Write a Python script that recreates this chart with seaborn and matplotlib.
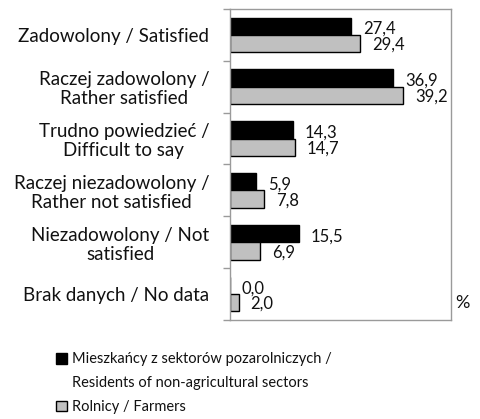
import matplotlib
matplotlib.use("Agg")
import matplotlib.pyplot as plt
import seaborn as sns
import pandas as pd
import numpy as np
from matplotlib.patches import Patch

categories = ["Zadowolony / Satisfied",
              "Raczej zadowolony /\nRather satisfied",
              "Trudno powiedzieć /\nDifficult to say",
              "Raczej niezadowolony /\nRather not satisfied",
              "Niezadowolony / Not\nsatisfied",
              "Brak danych / No data"]
series_names = ["Mieszkańcy z sektorów pozarolniczych /",
                "Rolnicy / Farmers"]
legend_second_line = "Residents of non-agricultural sectors"
non_agri = [27.4, 36.9, 14.3, 5.9, 15.5, 0.0]
farmers = [29.4, 39.2, 14.7, 7.8, 6.9, 2.0]

sns.set_theme(style="white")
plt.rcParams['font.family'] = ['Lato', 'DejaVu Sans']

df = pd.DataFrame({
    "cat": categories * 2,
    "series": [series_names[0]] * 6 + [series_names[1]] * 6,
    "val": non_agri + farmers,
})

fig = plt.figure(figsize=(4.8, 4.19), dpi=100)
ax = fig.add_axes([230/480, 1-320/419, 221/480, 311/419])
sns.barplot(data=df, y="cat", x="val", hue="series", orient="h",
            palette=["#000000", "#c0c0c0"], edgecolor="black", linewidth=1,
            width=0.67, ax=ax, legend=False, order=categories,
            hue_order=series_names)
ax.set_xlim(0, 50)
ax.set_ylim(5.5, -0.5)
ax.set_xlabel("")
ax.set_ylabel("")
ax.set_xticks([])
ax.set_yticks(range(6))
ax.set_yticklabels(categories, fontsize=13.5, ha="right", multialignment="center",
                   linespacing=1.15, color="#111111")
ax.tick_params(axis="y", which="major", length=0, pad=15)
ax.set_yticks(np.arange(-0.5, 6.0, 1), minor=True)
ax.tick_params(axis="y", which="minor", length=5, width=1, color="#9a9a9a",
               direction="out", left=True)
for s in ["left", "bottom", "right", "top"]:
    ax.spines[s].set_visible(True)
    ax.spines[s].set_color("#9a9a9a")
    ax.spines[s].set_linewidth(1)

for cont, vals, dy in zip(ax.containers, [non_agri, farmers], [5.6, 4.5]):
    for bar, v in zip(cont, vals):
        ax.annotate(f"{v:.1f}".replace(".", ","),
                    (bar.get_x() + bar.get_width(), bar.get_y() + bar.get_height() / 2),
                    xytext=(8.5, -dy), textcoords="offset points",
                    ha="left", va="baseline", fontsize=12, color="#111111")

fig.text(462/480, 1-303/419, "%", ha="center", va="center", fontsize=13, color="#111111")

handles = [Patch(facecolor="#000000", edgecolor="black"),
           Patch(facecolor="none", edgecolor="none"),
           Patch(facecolor="#c0c0c0", edgecolor="black")]
labels = [series_names[0], legend_second_line, series_names[1]]
fig.legend(handles, labels, loc="upper left", bbox_to_anchor=(49/480, 1-345/419),
           frameon=False, fontsize=10.5, handlelength=0.75, handleheight=0.75,
           handletextpad=0.35, labelspacing=0.68, borderpad=0, labelcolor="#111111")

fig.savefig("out.png", dpi=100)
